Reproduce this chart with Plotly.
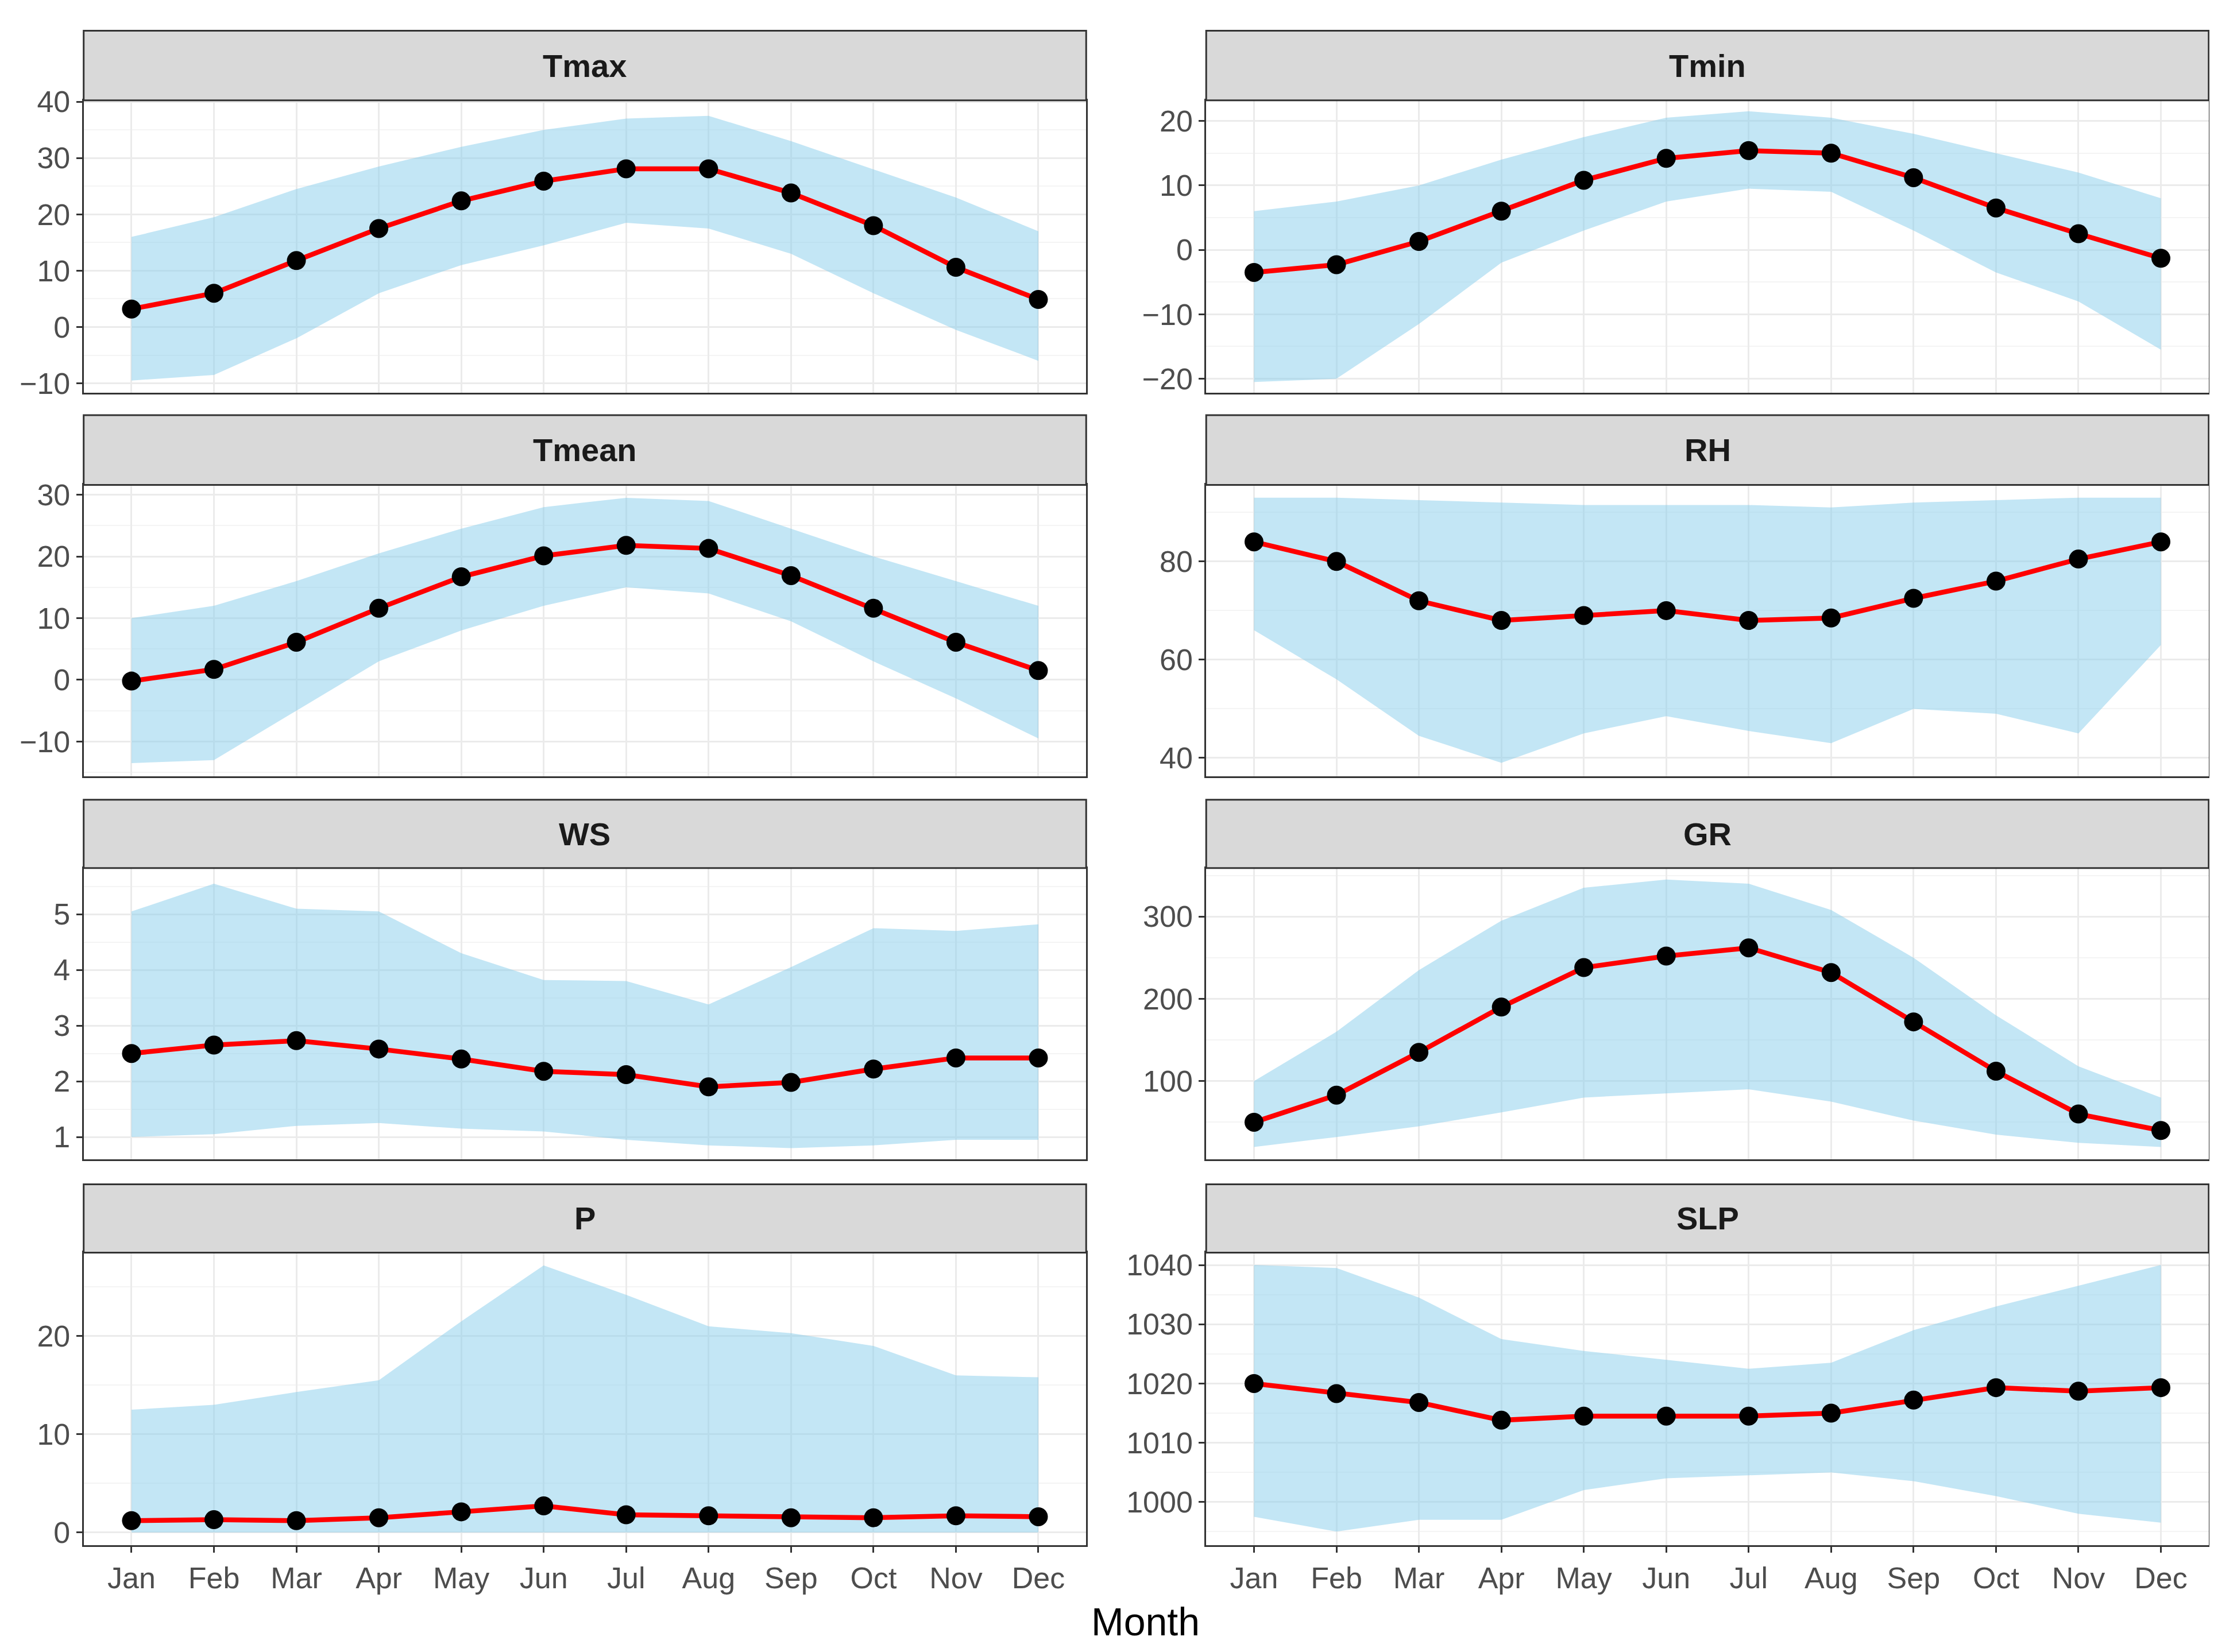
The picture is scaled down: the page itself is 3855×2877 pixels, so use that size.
import plotly.graph_objects as go

months = ["Jan","Feb","Mar","Apr","May","Jun","Jul","Aug","Sep","Oct","Nov","Dec"]
panels = ["Tmax","Tmin","Tmean","RH","WS","GR","P","SLP"]

tmax_mean = [3.2,6,11.8,17.5,22.4,25.9,28.1,28.1,23.8,18,10.6,4.9]
tmax_up   = [16,19.5,24.5,28.5,32,35,37,37.5,33,28,23,17]
tmax_lo   = [-9.5,-8.5,-2,6,11,14.5,18.5,17.5,13,6,-0.5,-6]
tmin_mean = [-3.5,-2.3,1.3,6,10.8,14.2,15.4,15,11.2,6.5,2.5,-1.3]
tmin_up   = [6,7.5,10,14,17.5,20.5,21.5,20.5,18,15,12,8]
tmin_lo   = [-20.5,-20,-11.5,-2,3,7.5,9.5,9,3,-3.5,-8,-15.5]
tmean_mean= [-0.2,1.7,6.1,11.6,16.7,20.1,21.8,21.3,16.9,11.6,6.1,1.5]
tmean_up  = [10,12,16,20.5,24.5,28,29.5,29,24.5,20,16,12]
tmean_lo  = [-13.5,-13,-5,3,8,12,15,14,9.5,3,-3,-9.5]
rh_mean   = [84,80,72,68,69,70,68,68.5,72.5,76,80.5,84]
rh_up     = [93,93,92.5,92,91.5,91.5,91.5,91,92,92.5,93,93]
rh_lo     = [66,56,44.5,39,45,48.5,45.5,43,50,49,45,63]
ws_mean   = [2.5,2.65,2.73,2.58,2.4,2.18,2.12,1.9,1.98,2.22,2.42,2.42]
ws_up     = [5.05,5.55,5.1,5.05,4.3,3.82,3.8,3.38,4.05,4.75,4.7,4.82]
ws_lo     = [1,1.05,1.2,1.25,1.15,1.1,0.95,0.85,0.8,0.85,0.95,0.95]
gr_mean   = [50,83,135,190,238,252,262,232,172,112,60,40]
gr_up     = [100,160,235,295,335,345,340,308,250,180,118,80]
gr_lo     = [20,32,45,62,80,85,90,75,52,35,25,20]
p_mean    = [1.2,1.3,1.2,1.5,2.1,2.7,1.8,1.7,1.5,1.5,1.7,1.6]
p_up      = [12.5,13,14.3,15.5,21.5,27.2,24.2,21,20.3,19,16,15.8]
p_lo      = [0,0,0,0,0,0,0,0,0,0,0,0]
slp_mean  = [1020,1018.3,1016.8,1013.8,1014.5,1014.5,1014.5,1015,1017.2,1019.3,1018.7,1019.3]
slp_up    = [1040,1039.5,1034.5,1027.5,1025.5,1024,1022.5,1023.5,1029,1033,1036.5,1040]
slp_lo    = [997.5,995,997,997,1002,1004,1004.5,1005,1003.5,1001,998,996.5]

data = {
    "Tmax": (tmax_mean, tmax_up, tmax_lo),
    "Tmin": (tmin_mean, tmin_up, tmin_lo),
    "Tmean": (tmean_mean, tmean_up, tmean_lo),
    "RH": (rh_mean, rh_up, rh_lo),
    "WS": (ws_mean, ws_up, ws_lo),
    "GR": (gr_mean, gr_up, gr_lo),
    "P": (p_mean, p_up, p_lo),
    "SLP": (slp_mean, slp_up, slp_lo),
}
yranges = {"Tmax": [-11.7,40.25], "Tmin": [-22.2,23.2], "Tmean": [-15.6,31.6],
           "RH": [36.3,95.6], "WS": [0.6,5.83], "GR": [5,359],
           "P": [-1.3,28.5], "SLP": [992.7,1042.1]}
dticks = {"Tmax":10,"Tmin":10,"Tmean":10,"RH":20,"WS":1,"GR":100,"P":10,"SLP":10}

W, H = 1568, 1170
xdoms = [[56/W, 766/W], [851/W, 1561/W]]
rows_px = [(8,58,268),(284,334,543),(560,609,818),(836,885,1095)]

fig = go.Figure()
layout = dict(width=3855, height=2877, paper_bgcolor="white", plot_bgcolor="white",
              margin=dict(l=0,r=0,t=0,b=0), showlegend=False)
shapes, annotations = [], []
tickfont = dict(family="Liberation Sans, Arial", size=52, color="#4d4d4d")

for i, name in enumerate(panels):
    r, c = divmod(i, 2)
    st, pt, pb = rows_px[r]
    xd = xdoms[c]
    yd = [1-pb/H, 1-pt/H]
    n = i+1
    xa = "x" if n == 1 else f"x{n}"
    ya = "y" if n == 1 else f"y{n}"
    mean, up, lo = data[name]
    fig.add_trace(go.Scatter(x=months, y=up, mode="lines", line=dict(width=0),
                             xaxis=xa, yaxis=ya, hoverinfo="skip"))
    fig.add_trace(go.Scatter(x=months, y=lo, mode="lines", line=dict(width=0),
                             fill="tonexty", fillcolor="rgba(135,206,235,0.5)",
                             xaxis=xa, yaxis=ya, hoverinfo="skip"))
    fig.add_trace(go.Scatter(x=months, y=mean, mode="lines+markers",
                             line=dict(color="red", width=8.5),
                             marker=dict(color="black", size=33),
                             xaxis=xa, yaxis=ya))
    bottom = (r == 3)
    layout["xaxis" if n == 1 else f"xaxis{n}"] = dict(
        domain=xd, anchor=ya, type="category", categoryorder="array",
        categoryarray=months, range=[-0.58, 11.58],
        showgrid=True, gridcolor="#ebebeb", gridwidth=3,
        showline=True, linecolor="#333333", linewidth=3, mirror=True,
        ticks="outside" if bottom else "", ticklen=10, tickwidth=3, tickcolor="#333333",
        showticklabels=bottom, tickfont=tickfont, zeroline=False)
    d = dticks[name]
    layout["yaxis" if n == 1 else f"yaxis{n}"] = dict(
        domain=yd, anchor=xa, range=yranges[name], dtick=d, tick0=0,
        showgrid=True, gridcolor="#ebebeb", gridwidth=3,
        minor=dict(showgrid=True, gridcolor="#f4f4f4", gridwidth=1.5, dtick=d/2, tick0=0),
        showline=True, linecolor="#333333", linewidth=3, mirror=True,
        ticks="outside", ticklen=10, tickwidth=3, tickcolor="#333333",
        tickfont=tickfont, zeroline=False)
    shapes.append(dict(type="rect", xref="paper", yref="paper",
                       x0=xd[0], x1=xd[1], y0=1-pt/H, y1=1-st/H,
                       fillcolor="#d9d9d9", line=dict(color="#333333", width=3), layer="above"))
    annotations.append(dict(xref="paper", yref="paper", x=(xd[0]+xd[1])/2,
                            y=1-(st+pt)/2/H, text=f"<b>{name}</b>", showarrow=False,
                            font=dict(family="Liberation Sans, Arial", size=56, color="#1a1a1a"),
                            xanchor="center", yanchor="middle"))

annotations.append(dict(xref="paper", yref="paper", x=808/W, y=1-1150/H, text="Month",
                        showarrow=False, font=dict(family="Liberation Sans, Arial", size=68, color="black"),
                        xanchor="center", yanchor="middle"))
layout["shapes"] = shapes
layout["annotations"] = annotations
fig.update_layout(**layout)
fig.write_html("out.html")
